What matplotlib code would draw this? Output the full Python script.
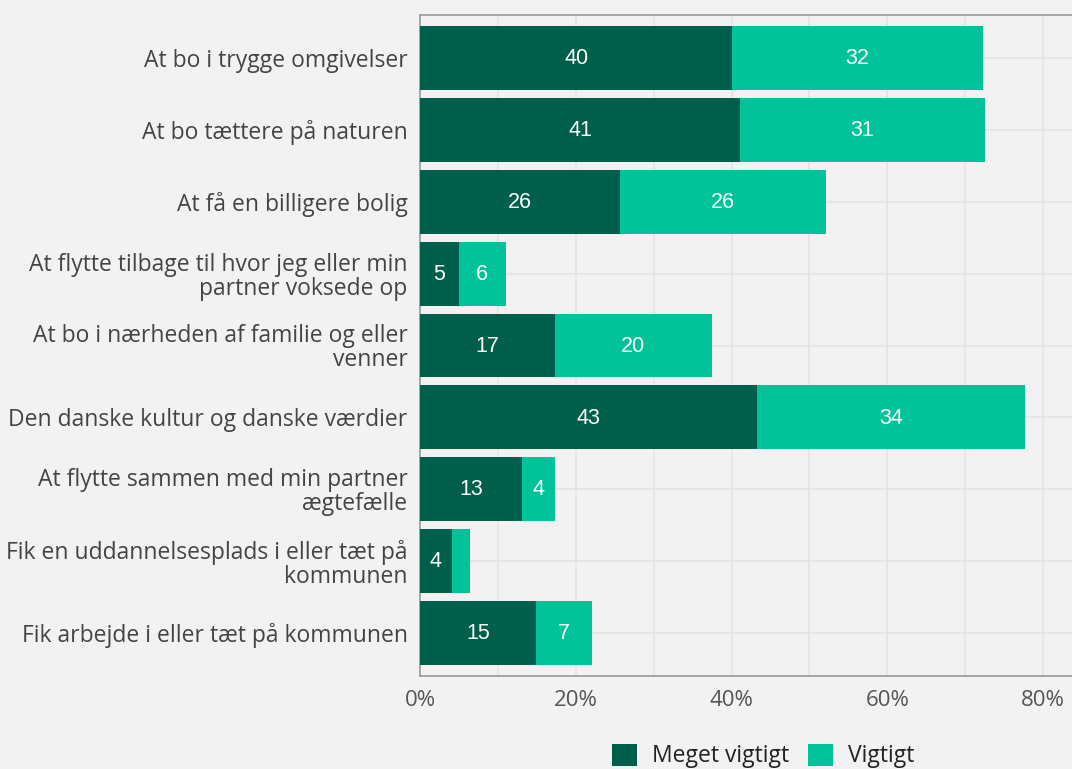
import matplotlib
matplotlib.use("Agg")
import matplotlib.pyplot as plt
from matplotlib.patches import Patch
from matplotlib.ticker import MultipleLocator, FuncFormatter

categories = [
    "At bo i trygge omgivelser",
    "At bo tættere på naturen",
    "At få en billigere bolig",
    "At flytte tilbage til hvor jeg eller min\npartner voksede op",
    "At bo i nærheden af familie og eller\nvenner",
    "Den danske kultur og danske værdier",
    "At flytte sammen med min partner\nægtefælle",
    "Fik en uddannelsesplads i eller tæt på\nkommunen",
    "Fik arbejde i eller tæt på kommunen",
]
meget_vigtigt = [40.1, 41.1, 25.7, 5.0, 17.3, 43.3, 13.1, 4.1, 14.9]
vigtigt = [32.2, 31.4, 26.4, 6.0, 20.2, 34.4, 4.2, 2.3, 7.2]
series_names = ["Meget vigtigt", "Vigtigt"]
x_ticks = [0, 20, 40, 60, 80]

dark = "#005f4b"
light = "#00c39a"
bg = "#f2f2f2"
grid_c = "#e3e3e3"

W, H = 1072, 769
fig = plt.figure(figsize=(W / 100, H / 100), dpi=100, facecolor=bg)
ppx = (1043 - 420) / 80.0
xmax = 85
ax = fig.add_axes([420 / W, (H - 676) / H, xmax * ppx / W, (676 - 15) / H])
ax.set_facecolor(bg)

y = list(range(len(categories)))
ax.barh(y, meget_vigtigt, height=0.89, color=dark, zorder=3)
ax.barh(y, vigtigt, left=meget_vigtigt, height=0.89, color=light, zorder=3)

lab_font = dict(family="Liberation Sans", size=15.5, color="white", ha="center", va="center", zorder=4)
for i, (a, b) in enumerate(zip(meget_vigtigt, vigtigt)):
    if a >= 3:
        ax.text(a / 2, i + 0.01, f"{round(a)}", **lab_font)
    if b >= 3:
        ax.text(a + b / 2, i + 0.01, f"{round(b)}", **lab_font)

ax.set_xlim(0, xmax)
ax.set_ylim(len(categories) - 0.4, -0.6)
ax.set_yticks(y)
ax.set_yticklabels(categories, family="Open Sans", fontsize=16.5, color="#444444",
                   linespacing=1.0)
for t in ax.get_yticklabels():
    t.set_horizontalalignment("right")
ax.set_xticks(x_ticks)
ax.xaxis.set_major_formatter(FuncFormatter(lambda v, p: f"{int(v)}%"))
ax.xaxis.set_minor_locator(MultipleLocator(10))
for t in ax.get_xticklabels():
    t.set_family("Open Sans")
    t.set_fontsize(16)
    t.set_color("#555555")
ax.tick_params(axis="both", which="both", length=0)
ax.tick_params(axis="y", pad=9)
ax.tick_params(axis="x", pad=10)

ax.grid(True, which="major", axis="both", color=grid_c, lw=1.1, zorder=0)
ax.grid(True, which="minor", axis="x", color=grid_c, lw=1.1, zorder=0)
ax.set_axisbelow(True)

for s in ["top", "left", "bottom", "right"]:
    ax.spines[s].set_color("#9a9a9a")
    ax.spines[s].set_linewidth(1.2)

handles = [Patch(facecolor=dark, edgecolor="none"), Patch(facecolor=light, edgecolor="none")]
leg = fig.legend(handles, series_names, loc="center", bbox_to_anchor=(763 / W, 1 - 756 / H),
                 ncol=2, frameon=False, handlelength=1.1, handleheight=1.1,
                 handletextpad=0.65, columnspacing=0.8,
                 prop={"family": "Open Sans", "size": 16.5})
for t in leg.get_texts():
    t.set_color("#222222")

fig.savefig("out.png", dpi=100, facecolor=bg)
